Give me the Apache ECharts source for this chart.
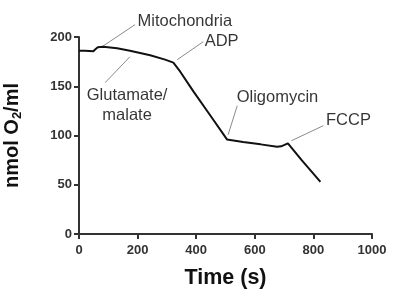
<!DOCTYPE html>
<html><head><meta charset="utf-8">
<script src="https://cdn.jsdelivr.net/npm/echarts@6/dist/echarts.min.js"></script>
<style>html,body{margin:0;padding:0;background:#fff}#c{width:400px;height:302px}</style>
</head><body><div id="c"></div>
<script>
// Oxygen trace: [time (s), nmol O2/ml]
var timeSec = [0, 20, 49, 56, 64, 83, 130, 174, 243, 294, 322, 345, 391, 450, 505, 560, 620, 676, 690, 713, 760, 824];
var oxygen  = [186, 186, 185.5, 187.5, 189.5, 190, 188.5, 186, 181.5, 177, 174, 165, 144.5, 119.5, 96, 93.5, 91, 88.6, 89, 92, 75, 53];
var xTicks = [0, 200, 400, 600, 800, 1000];
var yTicks = [0, 50, 100, 150, 200];
// Annotations: label, leader start [t, O2], leader end [t, O2], label anchor [t, O2]
var annoLabels = ['Mitochondria', 'Glutamate/\nmalate', 'ADP', 'Oligomycin', 'FCCP'];
var annoFrom = [[79, 190.2], [89, 153.6], [335, 176.9], [509, 100.8], [725, 94.7]];
var annoTo   = [[191, 212.5], [174, 180], [424, 195.2], [540, 130.2], [834, 110]];
var annoText = [[200, 215.5], [164, 130], [429, 195.5], [538, 138.5], [843, 115]];
var annoAlign = ['left', 'center', 'left', 'left', 'left'];

var font = '"Liberation Sans", Arial, Helvetica, sans-serif';
var chart = echarts.init(document.getElementById('c'), null, {renderer: 'canvas'});
var series = [{
  type: 'line', data: timeSec.map(function (t, i) { return [t, oxygen[i]]; }),
  showSymbol: false, symbol: 'none', lineStyle: {color: '#111', width: 2}, z: 5, clip: false
}];
annoLabels.forEach(function (lab, i) {
  series.push({
    type: 'line', data: [annoFrom[i], annoTo[i]], symbol: 'none', clip: false,
    lineStyle: {color: '#8a8a8a', width: 1}, z: 3, silent: true
  });
  series.push({
    type: 'scatter', data: [annoText[i]], symbolSize: 0, clip: false, silent: true,
    label: {show: true, position: 'inside', formatter: lab, color: '#000',
      fontFamily: font, fontSize: 16.5, align: annoAlign[i], verticalAlign: 'middle', lineHeight: 20}
  });
});
chart.setOption({
  animation: false,
  grid: {left: 79, right: 28, top: 37, bottom: 68, containLabel: false, outerBoundsMode: 'none'},
  xAxis: {
    type: 'value', min: 0, max: 1000, interval: 200,
    name: 'Time (s)', nameLocation: 'middle', nameGap: 33,
    nameTextStyle: {fontFamily: font, fontSize: 21.5, fontWeight: 'bold', color: '#111'},
    axisLine: {lineStyle: {color: '#333', width: 2}},
    axisTick: {show: true, length: 5, lineStyle: {color: '#333', width: 2}},
    axisLabel: {margin: 10, fontFamily: font, fontSize: 13, fontWeight: 'bold', color: '#333',
      formatter: function (v) { return xTicks.indexOf(v) >= 0 ? String(v) : ''; }},
    splitLine: {show: false}
  },
  yAxis: {
    type: 'value', min: 0, max: 200, interval: 50,
    name: '{a|nmol O}{s|2}{a|/ml}', nameLocation: 'middle', nameGap: 55,
    nameTextStyle: {rich: {
      a: {fontFamily: font, fontSize: 20, fontWeight: 'bold', color: '#111'},
      s: {fontFamily: font, fontSize: 13, fontWeight: 'bold', color: '#111', verticalAlign: 'bottom', padding: [10, 0, 0, 0]}
    }},
    axisLine: {show: true, lineStyle: {color: '#333', width: 2}},
    axisTick: {show: true, length: 5, lineStyle: {color: '#333', width: 2}},
    axisLabel: {margin: 7, fontFamily: font, fontSize: 13, fontWeight: 'bold', color: '#333',
      formatter: function (v) { return yTicks.indexOf(v) >= 0 ? String(v) : ''; }},
    splitLine: {show: false}
  },
  series: series
});
</script></body></html>
